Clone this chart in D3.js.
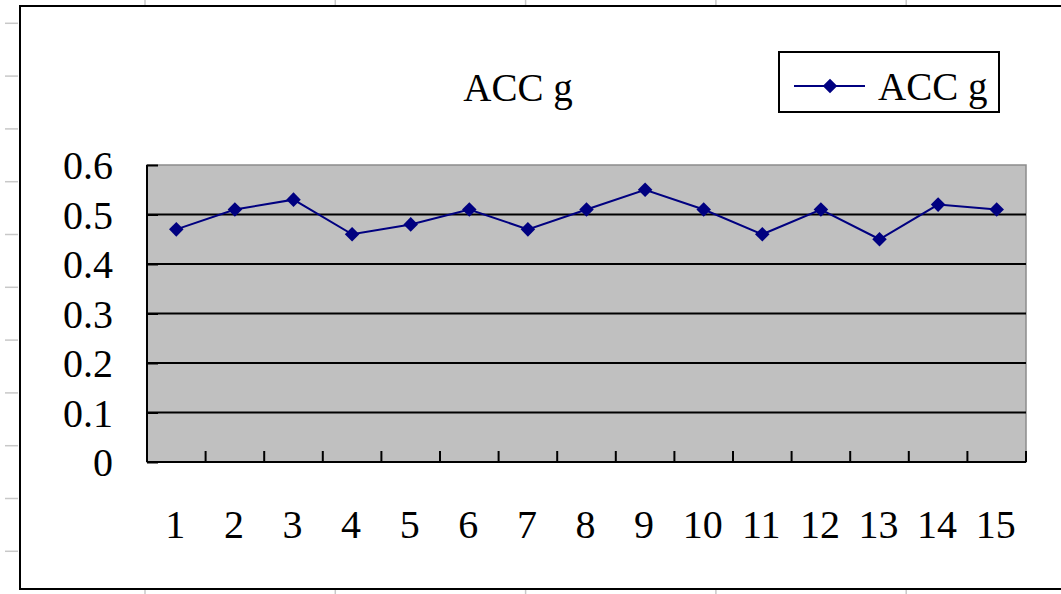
<!DOCTYPE html>
<html>
<head>
<meta charset="utf-8">
<script src="https://cdnjs.cloudflare.com/ajax/libs/d3/7.8.5/d3.min.js"></script>
<style>
  html, body { margin: 0; padding: 0; background: #fff; overflow: hidden; }
  svg { display: block; }
  text { font-family: "Liberation Serif", "DejaVu Serif", serif; fill: #000; }
</style>
</head>
<body>
<div id="chart"></div>
<script>
  "use strict";

  // chart data
  var categories = ["1", "2", "3", "4", "5", "6", "7", "8", "9", "10", "11", "12", "13", "14", "15"]
    , accValues = [0.47, 0.51, 0.53, 0.46, 0.48, 0.51, 0.47, 0.51, 0.55, 0.51, 0.46, 0.51, 0.45, 0.52, 0.51]
    , yTicks = [0, 0.1, 0.2, 0.3, 0.4, 0.5, 0.6]
    , seriesName = "ACC g"
    , chartTitle = "ACC g"

  var width = 1061
    , height = 594
    , plot = { left: 147, top: 165, right: 1026, bottom: 462 }
    , navy = "#000080"

  var svg = d3.select("#chart")
    .append("svg")
      .attr("width", width)
      .attr("height", height)

  // spreadsheet cell grid peeking around the chart object
  var gridG = svg.append("g").attr("stroke", "#c8c8c8").attr("stroke-width", 1.5)
  d3.range(23.3, height, 52.8).forEach(function (y) {
    gridG.append("line").attr("x1", 5).attr("x2", 18).attr("y1", y).attr("y2", y)
  })
  d3.range(145, width, 190.3).forEach(function (x) {
    gridG.append("line").attr("x1", x).attr("x2", x).attr("y1", 0).attr("y2", 6)
    gridG.append("line").attr("x1", x).attr("x2", x).attr("y1", 589).attr("y2", height)
  })

  // chart object frame
  svg.append("rect")
    .attr("x", 20)
    .attr("y", 6)
    .attr("width", width + 20)
    .attr("height", 583)
    .attr("fill", "#fff")
    .attr("stroke", "#000")
    .attr("stroke-width", 2)

  // scales
  var x = d3.scaleBand()
    .domain(categories)
    .range([plot.left, plot.right])

  var y = d3.scaleLinear()
    .domain([0, 0.6])
    .range([plot.bottom, plot.top])

  // plot area
  svg.append("rect")
    .attr("x", plot.left)
    .attr("y", plot.top)
    .attr("width", plot.right - plot.left)
    .attr("height", plot.bottom - plot.top)
    .attr("fill", "#c0c0c0")
    .attr("stroke", "#8c8c8c")
    .attr("stroke-width", 1.5)

  // horizontal gridlines
  svg.append("g")
    .selectAll("line")
      .data(yTicks.filter(function (d) { return d > 0 && d < 0.6 }))
    .enter().append("line")
      .attr("x1", plot.left)
      .attr("x2", plot.right)
      .attr("y1", function (d) { return y(d) })
      .attr("y2", function (d) { return y(d) })
      .attr("stroke", "#000")
      .attr("stroke-width", 2)

  // y axis
  var yAxis = svg.append("g")
    .attr("transform", "translate(" + plot.left + ",0)")
    .call(d3.axisRight(y).tickValues(yTicks).tickSize(11).tickFormat(""))
  yAxis.select(".domain").attr("stroke", "#000").attr("stroke-width", 2).attr("d", "M0," + plot.top + "V" + plot.bottom)
  yAxis.selectAll(".tick line").attr("stroke", "#000").attr("stroke-width", 2)

  svg.append("g")
    .selectAll("text")
      .data(yTicks)
    .enter().append("text")
      .attr("x", 113)
      .attr("y", function (d) { return y(d) })
      .attr("dy", "0.35em")
      .attr("text-anchor", "end")
      .attr("font-size", "40px")
      .text(function (d) { return d === 0 ? "0" : d3.format(".1f")(d) })

  // x axis, ticks between categories
  var xAxis = svg.append("g")
    .attr("transform", "translate(0," + plot.bottom + ")")
  xAxis.append("line")
    .attr("x1", plot.left)
    .attr("x2", plot.right)
    .attr("stroke", "#000")
    .attr("stroke-width", 2)
  xAxis.selectAll(".xtick")
      .data(categories.slice(1).concat(["end"]))
    .enter().append("line")
      .attr("class", "xtick")
      .attr("x1", function (d) { return d === "end" ? plot.right : x(d) })
      .attr("x2", function (d) { return d === "end" ? plot.right : x(d) })
      .attr("y1", 0)
      .attr("y2", -11)
      .attr("stroke", "#000")
      .attr("stroke-width", 2)

  svg.append("g")
    .selectAll("text")
      .data(categories)
    .enter().append("text")
      .attr("x", function (d) { return x(d) + x.bandwidth() / 2 - 1 })
      .attr("y", 538)
      .attr("text-anchor", "middle")
      .attr("font-size", "40px")
      .text(function (d) { return d })

  // series
  var line = d3.line()
    .x(function (d, i) { return x(categories[i]) + x.bandwidth() / 2 })
    .y(function (d) { return y(d) })

  svg.append("path")
    .datum(accValues)
    .attr("d", line)
    .attr("fill", "none")
    .attr("stroke", navy)
    .attr("stroke-width", 2)

  var diamond = d3.symbol().type(d3.symbolDiamond2).size(135)

  svg.append("g")
    .selectAll("path")
      .data(accValues)
    .enter().append("path")
      .attr("d", diamond)
      .attr("transform", function (d, i) {
        return "translate(" + (x(categories[i]) + x.bandwidth() / 2) + "," + y(d) + ")"
      })
      .attr("fill", navy)

  // title
  svg.append("text")
    .attr("x", 518)
    .attr("y", 101)
    .attr("text-anchor", "middle")
    .attr("font-size", "39px")
    .text(chartTitle)

  // legend
  var legend = svg.append("g")
  legend.append("rect")
    .attr("x", 779)
    .attr("y", 52)
    .attr("width", 220)
    .attr("height", 60)
    .attr("fill", "#fff")
    .attr("stroke", "#000")
    .attr("stroke-width", 2)
  legend.append("line")
    .attr("x1", 794)
    .attr("x2", 865)
    .attr("y1", 86)
    .attr("y2", 86)
    .attr("stroke", navy)
    .attr("stroke-width", 2)
  legend.append("path")
    .attr("d", diamond)
    .attr("transform", "translate(830,86)")
    .attr("fill", navy)
  legend.append("text")
    .attr("x", 878)
    .attr("y", 100)
    .attr("font-size", "39px")
    .text(seriesName)
</script>
</body>
</html>
